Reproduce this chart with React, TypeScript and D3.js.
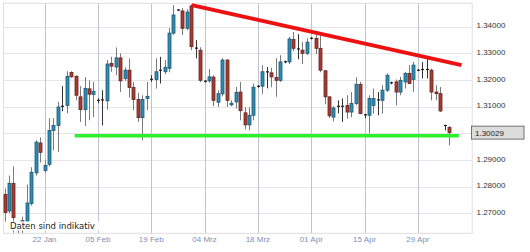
import React from "react";
import * as d3 from "d3";

// Daily EUR/USD candles, bar index 0 = 11 Jan (Sunday bars included)
const opens = [
  1.2771, 1.2709, 1.2812, 1.2650, 1.2666, 1.2671, 1.2737, 1.2852, 1.2964, 1.2861,
  1.2884, 1.3011, 1.3030, 1.3099, 1.3105, 1.3228, 1.3214, 1.3137, 1.3089, 1.3167,
  1.3146, 1.3124, 1.3126, 1.3122, 1.3262, 1.3249, 1.3283, 1.3206, 1.3237, 1.3172,
  1.3127, 1.3059, 1.3131, 1.3201, 1.3202, 1.3233, 1.3231, 1.3244, 1.3376, 1.3461,
  1.3459, 1.3394, 1.3478, 1.3320, 1.3312, 1.3194, 1.3197, 1.3211, 1.3117, 1.3148,
  1.3275, 1.3107, 1.3118, 1.3155, 1.3077, 1.3032, 1.3068, 1.3175, 1.3177, 1.3229,
  1.3227, 1.3210, 1.3199, 1.3267, 1.3268, 1.3352, 1.3317, 1.3312, 1.3300, 1.3355,
  1.3356, 1.3319, 1.3235, 1.3137, 1.3061, 1.3102, 1.3100, 1.3105, 1.3080, 1.3112,
  1.3184, 1.3070, 1.3068, 1.3105, 1.3126, 1.3124, 1.3162, 1.3190, 1.3193, 1.3155,
  1.3193, 1.3225, 1.3202, 1.3237, 1.3239, 1.3240, 1.3237, 1.3155, 1.3149, 1.3030,
  1.3022,
];
const highs = [
  1.2793, 1.2842, 1.2876, 1.2660, 1.2688, 1.2808, 1.2873, 1.2974, 1.2985, 1.2899,
  1.3057, 1.3057, 1.3118, 1.3177, 1.3233, 1.3233, 1.3218, 1.3177, 1.3211, 1.3199,
  1.3193, 1.3132, 1.3162, 1.3275, 1.3287, 1.3322, 1.3300, 1.3248, 1.3281, 1.3193,
  1.3152, 1.3143, 1.3193, 1.3218, 1.3281, 1.3287, 1.3275, 1.3395, 1.3481, 1.3466,
  1.3470, 1.3466, 1.3483, 1.3350, 1.3323, 1.3199, 1.3241, 1.3218, 1.3162, 1.3282,
  1.3278, 1.3124, 1.3174, 1.3193, 1.3098, 1.3098, 1.3187, 1.3181, 1.3256, 1.3249,
  1.3246, 1.3282, 1.3293, 1.3273, 1.3362, 1.3380, 1.3372, 1.3343, 1.3356, 1.3361,
  1.3372, 1.3367, 1.3237, 1.3139, 1.3103, 1.3124, 1.3131, 1.3143, 1.3155, 1.3210,
  1.3193, 1.3073, 1.3143, 1.3168, 1.3155, 1.3181, 1.3225, 1.3194, 1.3202, 1.3212,
  1.3231, 1.3256, 1.3268, 1.3241, 1.3268, 1.3281, 1.3243, 1.3181, 1.3174, 1.3032,
  1.3027,
];
const lows = [
  1.2669, 1.2699, 1.2628, 1.2627, 1.2627, 1.2666, 1.2729, 1.2842, 1.2891, 1.2850,
  1.2876, 1.2936, 1.2930, 1.3083, 1.3076, 1.3209, 1.3124, 1.3043, 1.3028, 1.3049,
  1.3061, 1.3113, 1.3030, 1.3089, 1.3231, 1.3218, 1.3155, 1.3197, 1.3134, 1.3087,
  1.3043, 1.2974, 1.3087, 1.3193, 1.3168, 1.3187, 1.3222, 1.3229, 1.3369, 1.3459,
  1.3369, 1.3387, 1.3312, 1.3281, 1.3192, 1.3190, 1.3190, 1.3102, 1.3099, 1.3139,
  1.3099, 1.3102, 1.3093, 1.3049, 1.3015, 1.3011, 1.3049, 1.3171, 1.3147, 1.3169,
  1.3173, 1.3137, 1.3193, 1.3263, 1.3260, 1.3308, 1.3278, 1.3260, 1.3293, 1.3352,
  1.3297, 1.3229, 1.3109, 1.3057, 1.3045, 1.3075, 1.3043, 1.3055, 1.3061, 1.3105,
  1.3072, 1.3057, 1.3000, 1.3074, 1.3068, 1.3074, 1.3155, 1.3184, 1.3105, 1.3143,
  1.3168, 1.3185, 1.3155, 1.3233, 1.3206, 1.3206, 1.3124, 1.3124, 1.3080, 1.3011,
  1.2955,
];
const closes = [
  1.2703, 1.2813, 1.2684, 1.2645, 1.2673, 1.2739, 1.2854, 1.2967, 1.2929, 1.2880,
  1.3011, 1.3030, 1.3099, 1.3102, 1.3214, 1.3212, 1.3143, 1.3089, 1.3168, 1.3147,
  1.3158, 1.3122, 1.3123, 1.3260, 1.3252, 1.3283, 1.3197, 1.3237, 1.3172, 1.3127,
  1.3059, 1.3127, 1.3139, 1.3203, 1.3231, 1.3237, 1.3248, 1.3376, 1.3444, 1.3463,
  1.3394, 1.3455, 1.3325, 1.3318, 1.3199, 1.3196, 1.3212, 1.3124, 1.3149, 1.3275,
  1.3124, 1.3113, 1.3154, 1.3085, 1.3032, 1.3068, 1.3173, 1.3177, 1.3231, 1.3231,
  1.3212, 1.3199, 1.3268, 1.3269, 1.3354, 1.3319, 1.3315, 1.3300, 1.3342, 1.3357,
  1.3319, 1.3237, 1.3137, 1.3066, 1.3095, 1.3100, 1.3102, 1.3080, 1.3112, 1.3184,
  1.3074, 1.3068, 1.3131, 1.3131, 1.3122, 1.3162, 1.3218, 1.3188, 1.3155, 1.3199,
  1.3225, 1.3187, 1.3256, 1.3236, 1.3240, 1.3239, 1.3155, 1.3149, 1.3084, 1.3028,
  1.30029,
];

const tickIndex = [9, 21, 33, 45, 57, 69, 81, 93];
const tickLabels = ["22 Jan", "05 Feb", "19 Feb", "04 Mrz", "18 Mrz", "01 Apr", "15 Apr", "29 Apr"];
const priceTicks = [1.27, 1.28, 1.29, 1.3, 1.31, 1.32, 1.33, 1.34];
const lastPrice = 1.30029;
const resistanceIdx = [42.1, 102.8];
const resistancePrice = [1.3481, 1.3256];
const supportIdx = [15.8, 102.2];
const supportPrice = [1.2991, 1.2991];
const disclaimer = "Daten sind indikativ";

const W = 530;
const H = 252;
const L = 3, R = 471.7, T = 3.3, B = 233.3;

export default function App() {
  const x = d3.scaleLinear().domain([-0.35, 105.1]).range([L, R]);
  const y = d3.scaleLinear().domain([1.27, 1.34]).range([213.4, 26.7]);
  const sans = "'Liberation Sans', Arial, sans-serif";
  const line = d3.line<[number, number]>().x((d) => x(d[0])).y((d) => y(d[1]));
  const res: [number, number][] = resistanceIdx.map((v, k) => [v, resistancePrice[k]]);
  const sup: [number, number][] = supportIdx.map((v, k) => [v, supportPrice[k]]);

  return (
    <svg
      width={W}
      height={H}
      style={{ position: "fixed", left: 0, top: 0, background: "#fff" }}
    >
      <rect x={0} y={0} width={W} height={H} fill="#fff" />
      {/* horizontal grid */}
      {priceTicks.map((p) => (
        <line key={"h" + p} x1={L} x2={R} y1={Math.round(y(p)) + 0.5} y2={Math.round(y(p)) + 0.5} stroke="#e6e6e6" />
      ))}
      {/* vertical grid */}
      {tickIndex.map((i) => (
        <line key={"v" + i} x1={Math.round(x(i)) + 0.5} x2={Math.round(x(i)) + 0.5} y1={T} y2={B} stroke="#bcc3d6" />
      ))}
      <rect x={L + 0.5} y={T} width={R - L} height={B - T} fill="none" stroke="#dedede" />
      {/* candles */}
      {opens.map((o, i) => {
        const c = closes[i];
        const h = highs[i];
        const l = lows[i];
        const cx = Math.round(x(i));
        const yo = y(o), yc = y(c);
        const top = Math.min(yo, yc), bot = Math.max(yo, yc);
        const up = c >= o;
        const doji = bot - top < 1.2;
        return (
          <g key={"c" + i}>
            <line x1={cx + 0.5} x2={cx + 0.5} y1={y(h)} y2={y(l)} stroke={doji ? "#333" : "#7a7a7a"} strokeWidth={1} />
            {doji ? (
              <rect x={cx - 1} y={top - 0.5} width={3} height={Math.max(1.2, bot - top)} fill="#222" />
            ) : (
              <rect
                x={cx - 1}
                y={top}
                width={3}
                height={bot - top}
                fill={up ? "#2f8cb4" : "#a43c35"}
                stroke={up ? "#1d5775" : "#6a2420"}
                strokeWidth={0.8}
              />
            )}
          </g>
        );
      })}
      {/* trend lines */}
      <path d={line(res) || ""} stroke="#ee1111" strokeWidth={4} fill="none" />
      <path d={line(sup) || ""} stroke="#2cf02c" strokeWidth={3.6} fill="none" />
      {/* y labels */}
      {priceTicks.map((p) => (
        <text key={"t" + p} x={476.5} y={y(p) + 1.7} fontFamily={sans} fontSize={8} fill="#333">
          {p.toFixed(5)}
        </text>
      ))}
      {/* last price box */}
      <rect x={471.5} y={y(lastPrice) - 6.5} width={52.5} height={13} fill="#dcdcdc" stroke="#555" strokeWidth={0.8} />
      <text x={475} y={y(lastPrice) + 3} fontFamily={sans} fontSize={8} fill="#222">
        {lastPrice.toFixed(5)}
      </text>
      {/* x labels */}
      {tickIndex.map((i, k) => (
        <text key={"x" + i} x={x(i)} y={242} textAnchor="middle" fontFamily={sans} fontSize={8} fill="#8190b4">
          {tickLabels[k]}
        </text>
      ))}
      {/* disclaimer */}
      <rect x={9} y={221.5} width={90} height={9} fill="#fff" />
      <text x={10} y={229.3} fontFamily="'DejaVu Sans', Verdana, sans-serif" fontSize={8.5} fill="#222">
        {disclaimer}
      </text>
    </svg>
  );
}
